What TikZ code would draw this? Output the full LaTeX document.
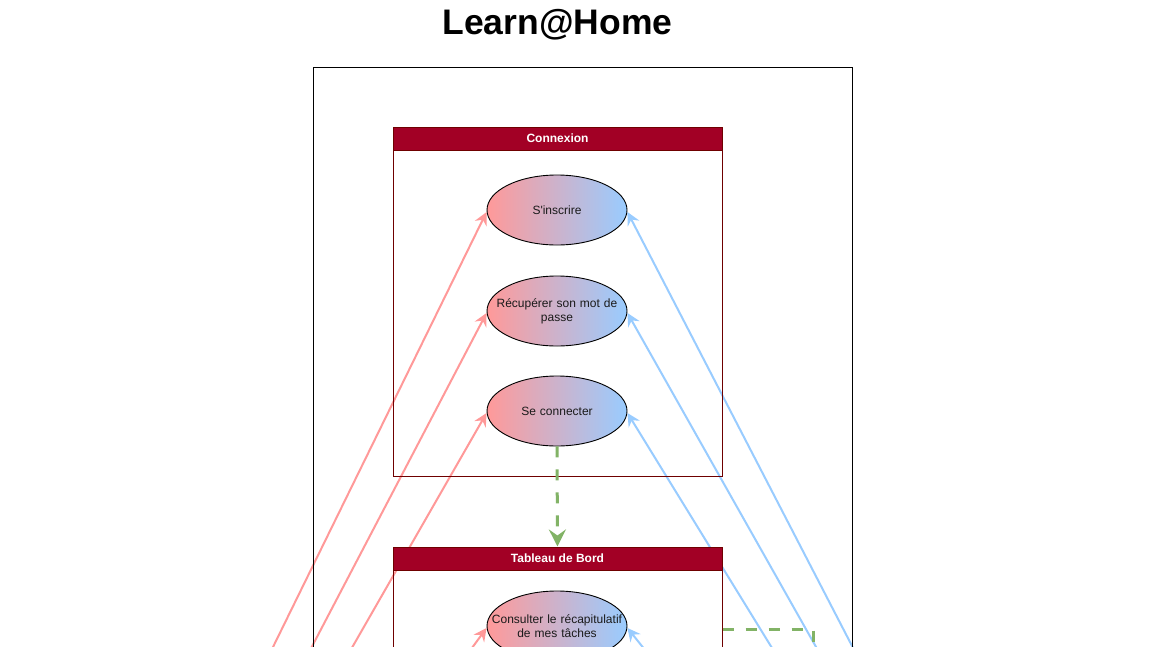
\documentclass[tikz,border=0pt]{standalone}
\usepackage{fontspec}
\setmainfont{Liberation Sans}
\usetikzlibrary{shapes.geometric,arrows.meta,calc}
\pgfdeclarelayer{lines}
\pgfdeclarelayer{frames}
\pgfsetlayers{lines,frames,main}
\definecolor{hdrred}{HTML}{A20025}
\definecolor{hdrborder}{HTML}{6F0000}
\definecolor{lred}{HTML}{FF9999}
\definecolor{lblue}{HTML}{99CCFF}
\definecolor{lgreen}{HTML}{82B366}
\definecolor{txt}{HTML}{1A1A1A}
\tikzset{
  outerbox/.style={draw=black, line width=1pt, minimum width=539pt, minimum height=833pt, inner sep=0pt},
  framebox/.style={draw=hdrborder, line width=1pt, minimum width=329pt, inner sep=0pt},
  hdrbox/.style={draw=hdrborder, fill=hdrred, line width=1pt, minimum width=329pt, minimum height=23pt, inner sep=0pt, text=white, font=\fontsize{12}{14}\selectfont\bfseries, anchor=north},
  usecase/.style={ellipse, draw=black, line width=0.9pt, left color=lred, right color=lblue, minimum width=140pt, minimum height=70pt, inner sep=0pt},
  uctext/.style={text width=142pt, align=center, text=txt, font=\fontsize{12}{14}\selectfont, inner sep=0pt},
  redarrow/.style={draw=lred, line width=2pt, -{Stealth[length=13pt,width=13pt,inset=4.5pt]}},
  bluearrow/.style={draw=lblue, line width=2pt, -{Stealth[length=13pt,width=13pt,inset=4.5pt]}},
  greendash/.style={draw=lgreen, line width=3pt, dash pattern=on 11pt off 12pt},
}
\begin{document}
\begin{tikzpicture}[x=1pt,y=-1pt]
\useasboundingbox (0,0) rectangle (1152,646);
\clip (0,0) rectangle (1152,646);

\node[font=\fontsize{35.5}{40}\selectfont\bfseries] (title) at (557.5,24.5) {Learn@Home};

% use cases
\node[usecase] (ins) at (557,210) {};
\node[uctext] at (ins) {S\textquotesingle inscrire};
\node[usecase] (rec) at (557,311) {};
\node[uctext] at (rec) {Récupérer son mot de\\ passe};
\node[usecase] (con) at (557,411) {};
\node[uctext] at (con) {Se connecter};
\node[usecase] (cons) at (557,626) {};
\node[uctext] at (cons) {Consulter le récapitulatif\\ de mes tâches};

% source points of the connectors (off the visible page)
\coordinate (r1) at (247,700);
\coordinate (r2) at (284,700);
\coordinate (r3) at (322,700);
\coordinate (r4) at (434,700);
\coordinate (b1) at (880,700);
\coordinate (b2) at (846,700);
\coordinate (b3) at (804,700);
\coordinate (b4) at (685,700);
\coordinate (g2) at (813,700);

\begin{pgfonlayer}{lines}
\fill[white] (0,0) rectangle (1152,646);
\draw[redarrow] (r1) -- ([yshift=-2pt]ins.west);
\draw[redarrow] (r2) -- ([yshift=-2pt]rec.west);
\draw[redarrow] (r3) -- ([yshift=-2pt]con.west);
\draw[redarrow] (r4) -- ([yshift=-2pt]cons.west);
\draw[bluearrow] (b1) -- ([yshift=-2pt]ins.east);
\draw[bluearrow] (b2) -- ([yshift=-2pt]rec.east);
\draw[bluearrow] (b3) -- ([yshift=-2pt]con.east);
\draw[bluearrow] (b4) -- ([yshift=-2pt]cons.east);
\end{pgfonlayer}

\begin{pgfonlayer}{frames}
\node[outerbox] (outer) at (582.5,483.5) {};
\node[framebox, minimum height=349pt] (conx) at (557.5,301.5) {};
\node[hdrbox] (conxh) at (conx.north) {Connexion};
\node[framebox, minimum height=353pt] (tab) at (557.5,723.5) {};
\node[hdrbox] (tabh) at (tab.north) {Tableau de Bord};
\end{pgfonlayer}

% green dashed connectors
\draw[greendash, -{Stealth[length=17pt,width=17pt,inset=6pt]}] (con.south) -- (tabh.north);
\draw[greendash] ([yshift=-3pt]cons.east -| tab.east) -| (g2);
\end{tikzpicture}
\end{document}
